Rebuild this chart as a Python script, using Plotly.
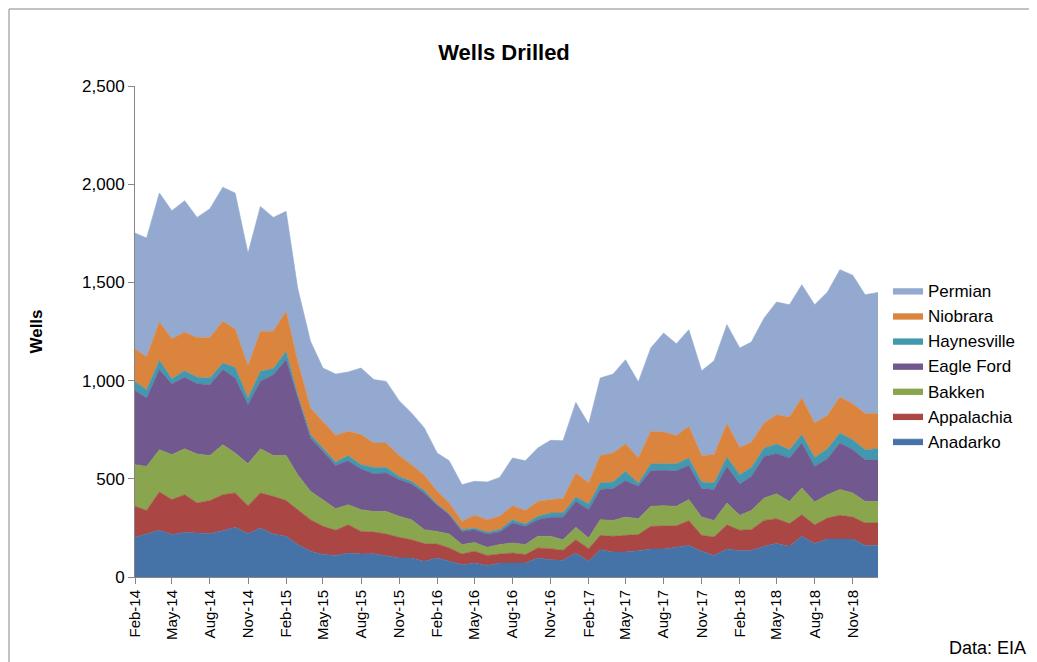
import pandas as pd
import plotly.graph_objects as go

months = pd.date_range("2014-02-01", periods=60, freq="MS")

anadarko = [202, 219, 238, 216, 227, 224, 221, 236, 253, 221, 249, 219, 207, 165, 131, 114, 110, 122, 117, 119,
            109, 97, 97, 80, 97, 80, 63, 71, 59, 71, 71, 71, 97, 88, 85, 122, 80, 139, 127, 127,
            134, 143, 143, 151, 161, 131, 110, 143, 134, 136, 156, 170, 156, 207, 170, 193, 193, 193, 161, 161]
appalachia = [158, 120, 195, 178, 192, 153, 168, 183, 175, 142, 179, 192, 182, 178, 161, 144, 128, 144, 115, 110,
              110, 105, 93, 90, 71, 68, 54, 60, 51, 46, 51, 43, 51, 56, 51, 68, 64, 73, 80, 85,
              82, 115, 115, 110, 126, 81, 94, 123, 104, 105, 132, 127, 116, 110, 96, 107, 121, 112, 114, 114]
bakken = [212, 224, 215, 229, 234, 249, 229, 255, 203, 214, 225, 208, 230, 178, 144, 136, 110, 102, 111, 105,
          115, 107, 102, 71, 64, 71, 48, 45, 41, 48, 51, 51, 59, 63, 54, 63, 55, 80, 81, 93,
          81, 102, 105, 99, 107, 93, 84, 111, 76, 98, 114, 127, 113, 136, 116, 119, 131, 123, 110, 110]
eagle_ford = [377, 348, 408, 360, 364, 358, 361, 382, 382, 300, 343, 411, 487, 390, 272, 246, 220, 224, 207, 192,
              195, 187, 181, 187, 133, 98, 67, 65, 68, 64, 102, 93, 85, 97, 114, 132, 144, 153, 162, 185,
              165, 181, 180, 181, 174, 145, 157, 186, 159, 173, 212, 204, 221, 229, 181, 183, 237, 220, 212, 212]
haynesville = [47, 43, 47, 27, 33, 33, 34, 33, 54, 34, 51, 31, 43, 17, 17, 17, 17, 26, 22, 32,
               29, 16, 14, 12, 7, 5, 9, 8, 10, 12, 17, 12, 17, 22, 22, 22, 29, 34, 34, 48,
               17, 34, 34, 36, 38, 34, 34, 48, 48, 46, 43, 49, 42, 43, 46, 51, 51, 51, 51, 56]
niobrara = [166, 166, 195, 203, 196, 203, 207, 213, 196, 165, 204, 190, 204, 170, 135, 136, 136, 124, 153, 124,
            124, 107, 85, 78, 64, 55, 42, 65, 63, 68, 71, 68, 76, 68, 73, 122, 107, 140, 147, 141,
            127, 167, 161, 144, 161, 135, 144, 170, 139, 128, 127, 149, 167, 186, 175, 170, 183, 183, 184, 179]
permian = [589, 606, 657, 652, 670, 611, 655, 682, 692, 573, 636, 580, 509, 373, 340, 271, 312, 302, 339, 323,
           314, 279, 263, 241, 195, 215, 187, 173, 192, 198, 243, 254, 272, 302, 295, 360, 300, 394, 402, 427,
           387, 424, 504, 467, 492, 431, 478, 504, 506, 510, 535, 574, 571, 577, 602, 628, 649, 654, 605, 617]

series = [
    ("Anadarko", anadarko, "#4572A7"),
    ("Appalachia", appalachia, "#AA4643"),
    ("Bakken", bakken, "#89A54E"),
    ("Eagle Ford", eagle_ford, "#71588F"),
    ("Haynesville", haynesville, "#4198AF"),
    ("Niobrara", niobrara, "#DB843D"),
    ("Permian", permian, "#93A9CF"),
]

fig = go.Figure()
for name, vals, col in series:
    fig.add_trace(go.Scatter(x=months, y=vals, name=name, stackgroup="one",
                             legendgroup=name, mode="lines",
                             line=dict(width=0.6, color=col), fillcolor=col))

# plot area: x 127..870, y 78..569 px
pw, ph = 743, 491
fig.update_layout(
    width=1037, height=662,
    paper_bgcolor="white", plot_bgcolor="white",
    font=dict(family="Liberation Sans, Arial", size=16, color="black"),
    title=dict(text="<b>Wells Drilled</b>", x=(496 - 127) / pw, xref="paper",
               y=0.945, xanchor="center", font=dict(size=22)),
    margin=dict(l=127, r=167, t=78, b=93, autoexpand=False),
    legend=dict(traceorder="reversed", x=(880 - 127) / pw, y=(569 - 358) / ph,
                yanchor="middle", font=dict(size=17), tracegroupgap=13),
    showlegend=True,
)
fig.update_xaxes(range=[months[0], months[-1]], tickformat="%b-%y", dtick="M3",
                 tick0="2014-02-01", tickangle=-90, ticks="outside", ticklen=6,
                 showgrid=False, showline=True, linecolor="#868686",
                 tickcolor="#868686", tickfont=dict(size=15))
fig.update_yaxes(range=[0, 2500], dtick=500, tickformat=",", ticks="outside",
                 ticklen=6, showgrid=False, showline=True, linecolor="#868686",
                 tickcolor="#868686", title=dict(text="<b>Wells</b>", standoff=35,
                                                 font=dict(size=17)),
                 tickfont=dict(size=17))
fig.add_annotation(text="Data: EIA", xref="paper", yref="paper", x=(1020 - 127) / pw,
                   y=(569 - 652) / ph, xanchor="right", yanchor="bottom",
                   showarrow=False, font=dict(size=18))
fig.add_shape(type="rect", xref="paper", yref="paper",
              x0=-126 / pw, y0=(569 - 660) / ph, x1=(1035 - 127) / pw, y1=568 / ph,
              line=dict(color="#868686", width=1))

fig.write_html("out.html")
